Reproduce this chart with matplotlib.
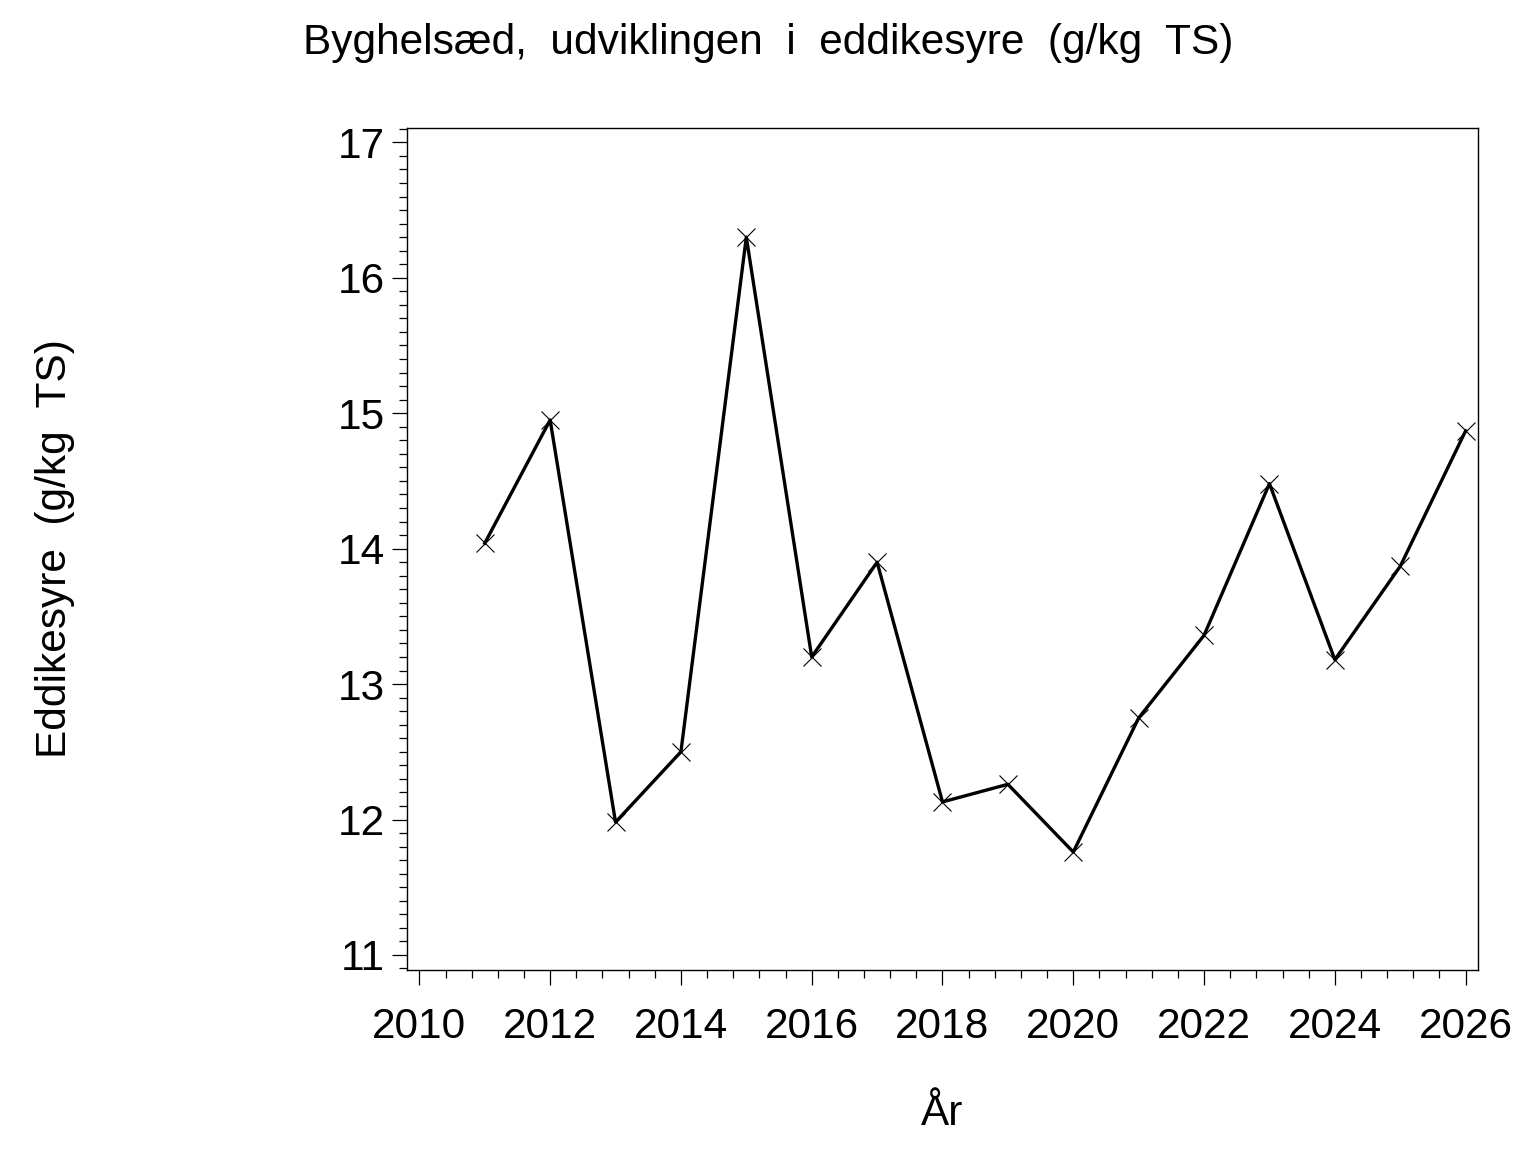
import matplotlib
matplotlib.use("Agg")
import matplotlib.pyplot as plt
from matplotlib.ticker import MultipleLocator
import numpy as np

# Data
years = [2011, 2012, 2013, 2014, 2015, 2016, 2017, 2018,
         2019, 2020, 2021, 2022, 2023, 2024, 2025, 2026]
acetic = [14.04, 14.95, 11.98, 12.50, 16.30, 13.20, 13.90, 12.13,
          12.26, 11.76, 12.75, 13.36, 14.48, 13.18, 13.87, 14.87]
x_ticks = np.arange(2010, 2027, 2)
y_ticks = np.arange(11, 18, 1)

title = "Byghelsæd,  udviklingen  i  eddikesyre  (g/kg  TS)"
x_label = "År"
y_label = "Eddikesyre  (g/kg  TS)"

plt.rcParams["font.family"] = ["Liberation Sans", "DejaVu Sans"]
fs = 30.5

fig = plt.figure(figsize=(15.36, 11.52), dpi=100)
ax = fig.add_axes([0.2648, 0.158, 0.9624 - 0.2648, 0.8889 - 0.158])

# Line with x markers
ax.plot(years, acetic, color="black", lw=2.4, zorder=2)
ax.plot(years, acetic, ls="none", marker="x", ms=13, mew=0.8,
        color="black", zorder=3)

ax.set_xlim(2009.807, 2026.193)
ax.set_ylim(10.889, 17.106)
ax.set_xticks(x_ticks)
ax.set_yticks(y_ticks)
ax.xaxis.set_minor_locator(MultipleLocator(0.4))
ax.yaxis.set_minor_locator(MultipleLocator(0.1))

# Ticks hacia fuera, estilo SAS
ax.tick_params(which="major", direction="out", length=11, width=0.9,
               labelsize=fs, color="black")
ax.tick_params(which="minor", direction="out", length=5.5, width=0.9,
               color="black")
ax.tick_params(axis="x", which="major", pad=16)
ax.tick_params(axis="y", which="major", pad=5)

for s in ax.spines.values():
    s.set_linewidth(1.0)
    s.set_color("black")

# Texts
fig.text(0.5, 0.963, title, ha="center", va="center", fontsize=fs)
fig.text(0.6136, 0.033, x_label, ha="center", va="center", fontsize=fs)
fig.text(0.036, 0.5235, y_label, ha="center", va="center", fontsize=fs,
         rotation=90)

fig.savefig("out.png", dpi=100)
